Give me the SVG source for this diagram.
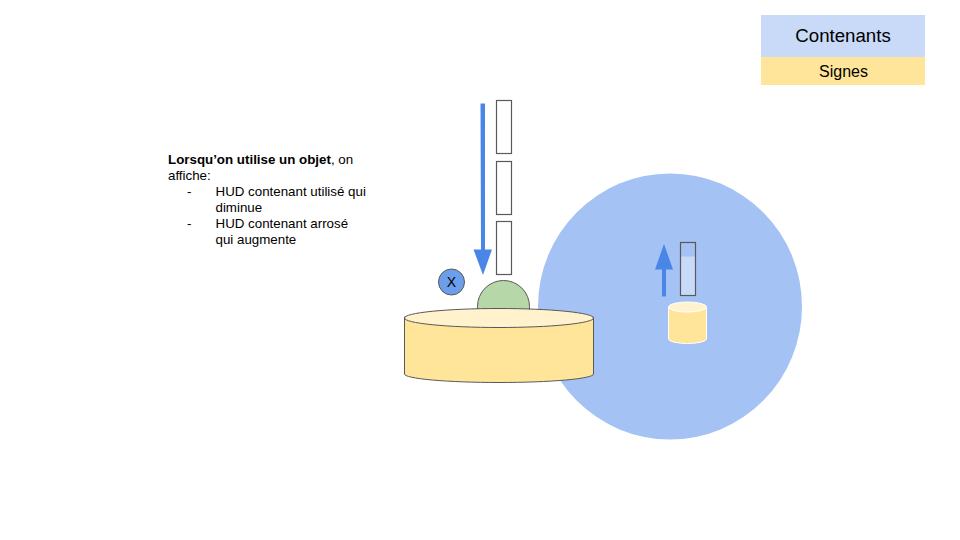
<svg xmlns="http://www.w3.org/2000/svg" width="960" height="540" viewBox="0 0 960 540">
<style>
text{font-family:"Liberation Sans",Arial,sans-serif;fill:#000}
.t{font-size:13.330px}
.s{stroke:#595959;stroke-width:1}
.hud{fill:#fff;stroke:#595959;stroke-width:1.200}
.arrow{fill:#4a86e8}
</style>
<rect width="960" height="540" fill="#fff"/>
<g id="legend-contenants"><rect x="761" y="15" width="164" height="42" fill="#c9daf8"/><text x="843" y="41.500" font-size="18.670" text-anchor="middle">Contenants</text></g>
<g id="legend-signes"><rect x="761" y="57" width="164" height="28" fill="#ffe599"/><text x="843.500" y="76.500" font-size="16" text-anchor="middle">Signes</text></g>
<g id="description" class="t">
<text x="168" y="164"><tspan font-weight="bold">Lorsqu’on utilise un objet</tspan>, on</text>
<text x="168" y="180">affiche:</text>
<text x="187" y="196">-</text><text x="215.500" y="196">HUD contenant utilisé qui</text>
<text x="215.500" y="212">diminue</text>
<text x="187" y="228">-</text><text x="215.500" y="228">HUD contenant arrosé</text>
<text x="215.500" y="244">qui augmente</text>
</g>
<g id="zone"><ellipse cx="670" cy="306.500" rx="132" ry="133" fill="#a4c2f4"/></g>
<g id="hud-1"><rect class="hud" x="496.500" y="100.500" width="15" height="53"/></g>
<g id="hud-2"><rect class="hud" x="496.500" y="161.500" width="15" height="53"/></g>
<g id="hud-3"><rect class="hud" x="496.500" y="221.500" width="15" height="53"/></g>
<g id="plant"><path class="s" d="M477.500 309.500v-3a26 26 0 0 1 52 0v3z" fill="#b6d7a8"/></g>
<g id="pot">
<path class="s" d="M404.500 317v57a94.500 8.500 0 0 0 189 0V317z" fill="#ffe599"/>
<ellipse class="s" cx="499" cy="318" rx="94.500" ry="9.500" fill="#fff2cc"/>
</g>
<g id="x-button"><circle class="s" cx="451.500" cy="282" r="13" fill="#6d9eeb"/><text x="451.500" y="287" font-size="14" text-anchor="middle">X</text></g>
<g id="hud-small">
<rect x="680.500" y="242.500" width="15" height="53" fill="#c9daf8"/>
<rect x="680.500" y="242.500" width="15" height="14" fill="#a4c2f4"/>
<rect x="680.500" y="242.500" width="15" height="53" fill="none" stroke="#595959" stroke-width="1.200"/>
</g>
<g id="pot-small">
<path d="M668.500 307v32a19 4.500 0 0 0 38 0v-32z" fill="#ffe599" stroke="#fff" stroke-width="1"/>
<ellipse cx="687.500" cy="307" rx="19" ry="5" fill="#fff2cc" stroke="#fff" stroke-width="1"/>
</g>
<g id="connectors">
<path class="arrow" d="M480.500 103.500h4.500V249.500h7L483 275 473.500 249.500H481z"/>
<path class="arrow" d="M662 296.500V269.500h-7L664 244 673 269.500H666V296.500z"/>
</g>
</svg>
